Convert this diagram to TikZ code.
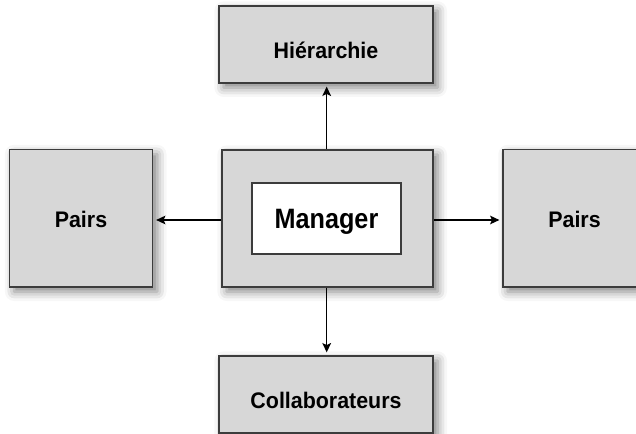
\documentclass[tikz,border=0pt]{standalone}
\usepackage{fontspec}
\setmainfont{Liberation Sans}
\newfontfamily\narrowsans{Liberation Sans}[FakeStretch=0.9]
\newfontfamily\labelsans{Liberation Sans}[FakeStretch=0.95]
\usetikzlibrary{arrows.meta,shadows.blur}
\definecolor{boxfill}{RGB}{215,215,215}
\definecolor{boxline}{RGB}{60,60,60}
\tikzset{
  graybox/.style={draw=boxline, line width=1.4pt, fill=boxfill, inner sep=0pt,
    font=\labelsans\bfseries\fontsize{16.9pt}{19pt}\selectfont, text depth=0pt,
    blur shadow={shadow xshift=3.5pt, shadow yshift=-3.5pt, shadow blur radius=7pt, shadow opacity=50}},
  whitebox/.style={draw=boxline, line width=1.1pt, fill=white, inner sep=0pt,
    font=\narrowsans\bfseries\fontsize{21pt}{24pt}\selectfont, text depth=0pt, text height=15pt},
  link/.style={draw=black, line width=1.1pt, shorten >=2pt,
    -{Stealth[length=7pt,width=6.5pt,inset=1.5pt]}}
}
\begin{document}
\begin{tikzpicture}[x=0.75pt,y=-0.75pt]
  \useasboundingbox (0,0) rectangle (636,434);
  \begin{scope}
    \clip (0,0) rectangle (636,434);
    % outer boxes
    \node[graybox, minimum width=214*0.75pt, minimum height=77*0.75pt, text height=21pt]
      (top) at (326,44.5) {Hiérarchie};
    \node[graybox, minimum width=214*0.75pt, minimum height=77*0.75pt, text height=20.5pt]
      (bottom) at (326,394.5) {Collaborateurs};
    \node[graybox, minimum width=143*0.75pt, minimum height=137.5*0.75pt, text height=13.5pt]
      (left) at (81,218.25) {Pairs};
    \node[graybox, minimum width=143*0.75pt, minimum height=137.5*0.75pt, text height=13.5pt]
      (right) at (574.5,218.25) {Pairs};
    % central manager block
    \node[graybox, minimum width=211*0.75pt, minimum height=137*0.75pt]
      (center) at (327.5,218.5) {};
    \node[whitebox, minimum width=149*0.75pt, minimum height=71*0.75pt]
      (manager) at (326.5,218.5) {Manager};
  \end{scope}
  % connectors from the manager block
  \draw[link] (center.north -| 326.7,0) -- (top.south -| 326.7,0);
  \draw[link] (center.south -| 326.7,0) -- (bottom.north -| 326.7,0);
  \draw[link] (center.west |- 0,220) -- (left.east |- 0,220);
  \draw[link] (center.east |- 0,220) -- (right.west |- 0,220);
\end{tikzpicture}
\end{document}
